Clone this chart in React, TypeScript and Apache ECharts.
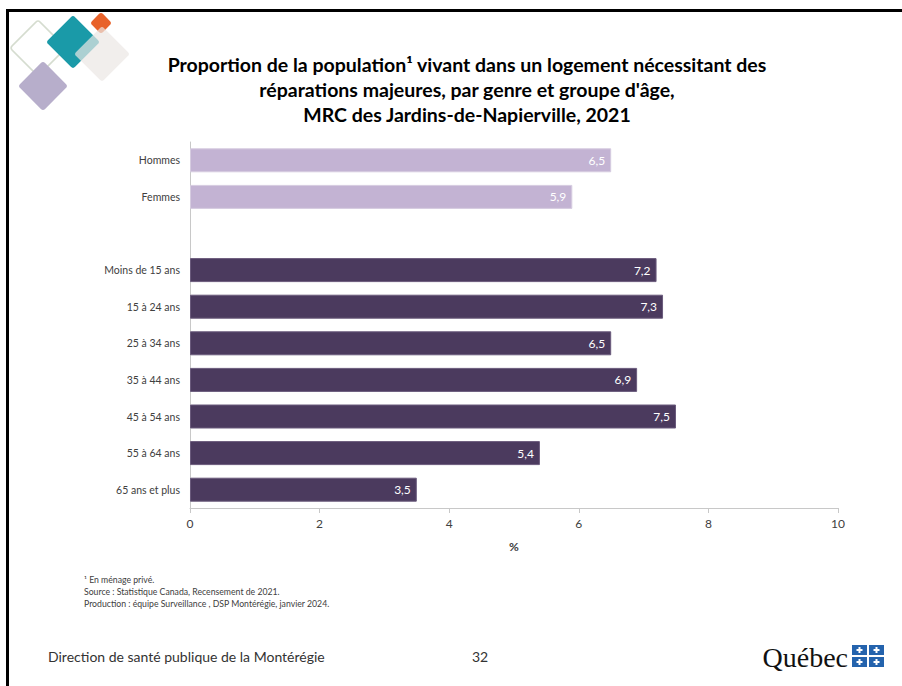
import React, { useEffect, useRef } from "react";
import * as echarts from "echarts";

const categories = [
  "Hommes",
  "Femmes",
  "",
  "Moins de 15 ans",
  "15 à 24 ans",
  "25 à 34 ans",
  "35 à 44 ans",
  "45 à 54 ans",
  "55 à 64 ans",
  "65 ans et plus",
];
const values: (number | null)[] = [6.5, 5.9, null, 7.2, 7.3, 6.5, 6.9, 7.5, 5.4, 3.5];
const groupKind = ["genre", "genre", "", "age", "age", "age", "age", "age", "age", "age"];
const titleLines = [
  "Proportion de la population¹ vivant dans un logement nécessitant des",
  "réparations majeures, par genre et groupe d'âge,",
  "MRC des Jardins-de-Napierville, 2021",
];
const footnotes = [
  "¹ En ménage privé.",
  "Source : Statistique Canada, Recensement de 2021.",
  "Production : équipe Surveillance , DSP Montérégie, janvier 2024.",
];
const xTicks = { min: 0, max: 10, interval: 2 };

const LIGHT = "#c3b3d3";
const DARK = "#4b3a5e";
const FONT = "Lato, 'Open Sans', sans-serif";

function diamond(cx: number, cy: number, half: number, style: any, z = 1) {
  const s = half * Math.SQRT2;
  return {
    type: "rect",
    x: cx,
    y: cy,
    rotation: Math.PI / 4,
    shape: { x: -s / 2, y: -s / 2, width: s, height: s, r: 3 },
    style,
    z,
    silent: true,
  };
}

export default function App() {
  const ref = useRef<HTMLDivElement>(null);
  useEffect(() => {
    document.body.style.margin = "0";
    const chart = echarts.init(ref.current!, null, { renderer: "svg" });

    const flag: any[] = [];
    const fx = 852;
    const fy = 645;
    [
      [0, 0],
      [17, 0],
      [0, 12],
      [17, 12],
    ].forEach(([dx, dy]) => {
      flag.push({
        type: "rect",
        shape: { x: fx + dx, y: fy + dy, width: 15, height: 10 },
        style: { fill: "#2463ad" },
      });
      flag.push({
        type: "rect",
        shape: { x: fx + dx + 6.5, y: fy + dy + 2, width: 2, height: 6 },
        style: { fill: "#fff" },
      });
      flag.push({
        type: "rect",
        shape: { x: fx + dx + 4.5, y: fy + dy + 4, width: 6, height: 2 },
        style: { fill: "#fff" },
      });
    });

    chart.setOption({
      animation: false,
      backgroundColor: "#ffffff",
      textStyle: { fontFamily: FONT },
      grid: { left: 190, right: 64, top: 142, bottom: 178, containLabel: false },
      xAxis: {
        type: "value",
        min: xTicks.min,
        max: xTicks.max,
        interval: xTicks.interval,
        name: "%",
        nameLocation: "middle",
        nameGap: 32,
        nameTextStyle: { fontWeight: "bold", fontSize: 12, color: "#404040", fontFamily: FONT },
        axisLine: { show: true, lineStyle: { color: "#c8c8c8", width: 1 } },
        axisTick: { show: true, length: 5, lineStyle: { color: "#c8c8c8" } },
        axisLabel: { color: "#404040", fontSize: 12, margin: 9, fontFamily: FONT },
        splitLine: { show: false },
      },
      yAxis: {
        type: "category",
        data: categories,
        inverse: true,
        axisLine: { show: true, lineStyle: { color: "#c8c8c8", width: 1 } },
        axisTick: { show: false },
        axisLabel: { color: "#404040", fontSize: 10.5, margin: 10, fontFamily: FONT },
      },
      series: [
        {
          type: "bar",
          barWidth: 24,
          data: values.map((v, i) => ({
            value: v,
            itemStyle: {
              color: groupKind[i] === "genre" ? LIGHT : DARK,
              borderColor: groupKind[i] === "genre" ? "#d6cce0" : "#6a5a7c",
              borderWidth: 1,
            },
          })),
          label: {
            show: true,
            position: "insideRight",
            distance: 6,
            color: "#ffffff",
            fontSize: 12,
            fontFamily: FONT,
            formatter: (p: any) => (p.value == null ? "" : String(p.value).replace(".", ",")),
          },
        },
      ],
      graphic: [
        { type: "rect", shape: { x: 6, y: 9, width: 896, height: 3 }, style: { fill: "#000" }, silent: true },
        { type: "rect", shape: { x: 6, y: 9, width: 3, height: 677 }, style: { fill: "#000" }, silent: true },
        diamond(38, 48, 28, { fill: "none", stroke: "#d5dccf", lineWidth: 1.5 }, 1),
        diamond(43, 86, 25, { fill: "#b7aecb" }, 2),
        diamond(73, 42, 27, { fill: "#1a9aa8" }, 3),
        diamond(101, 23, 11, { fill: "#e8622a" }, 4),
        diamond(102, 54, 28, { fill: "#ebe7e4", opacity: 0.7 }, 5),
        ...titleLines.map((t, i) => ({
          type: "text",
          x: 467,
          y: 64 + i * 25,
          style: {
            text: t,
            fill: "#000",
            font: `bold 19.5px ${FONT}`,
            textAlign: "center",
            textVerticalAlign: "middle",
          },
        })),
        ...footnotes.map((t, i) => ({
          type: "text",
          x: 84,
          y: 579 + i * 12,
          style: {
            text: t,
            fill: "#404040",
            font: `8.7px ${FONT}`,
            textAlign: "left",
            textVerticalAlign: "middle",
          },
        })),
        {
          type: "text",
          x: 48,
          y: 656,
          style: {
            text: "Direction de santé publique de la Montérégie",
            fill: "#333",
            font: `14px ${FONT}`,
            textVerticalAlign: "middle",
          },
        },
        {
          type: "text",
          x: 480,
          y: 656,
          style: { text: "32", fill: "#333", font: `14px ${FONT}`, textAlign: "center", textVerticalAlign: "middle" },
        },
        {
          type: "text",
          x: 848,
          y: 657,
          style: {
            text: "Québec",
            fill: "#111",
            font: `28px 'Liberation Serif', 'DejaVu Serif', serif`,
            textAlign: "right",
            textVerticalAlign: "middle",
          },
        },
        ...flag,
      ],
    });
    return () => chart.dispose();
  }, []);
  return <div ref={ref} style={{ width: 902, height: 686 }} />;
}
